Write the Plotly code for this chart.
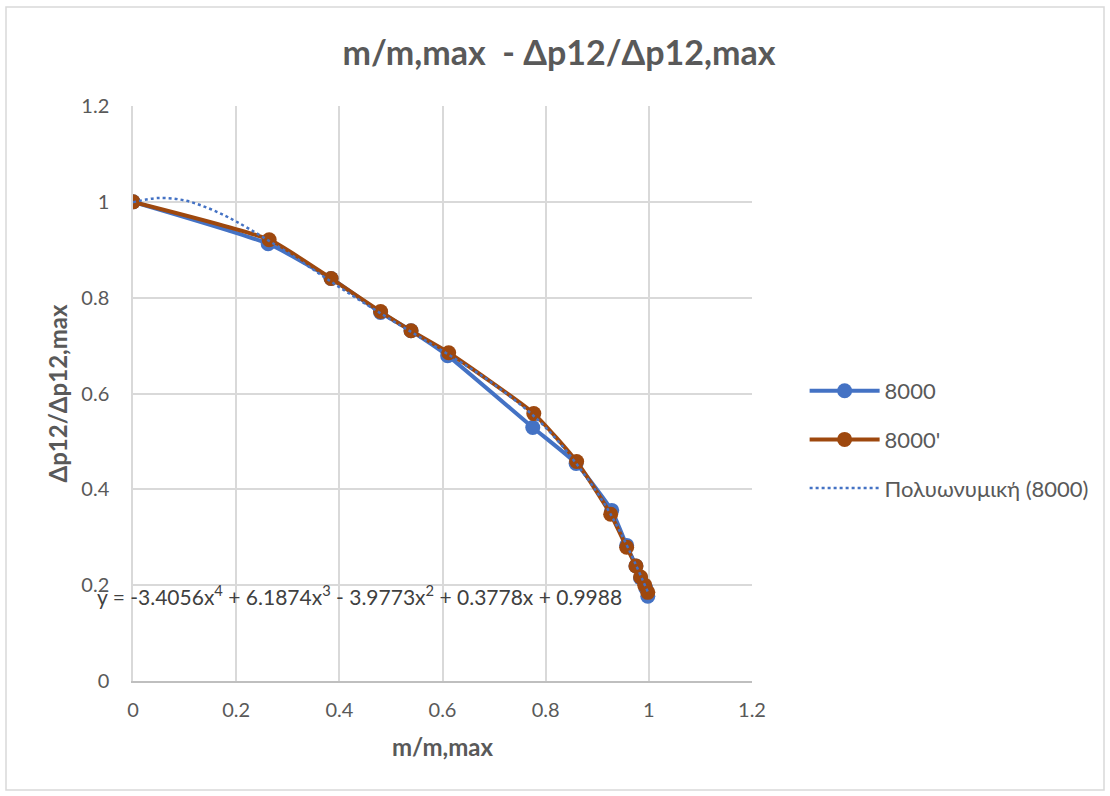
import plotly.graph_objects as go

# --- data ---
x_8000 = [0, 0.262, 0.384, 0.48, 0.539, 0.61, 0.775, 0.859, 0.928, 0.957, 0.975, 0.984, 0.994, 0.998]
y_8000 = [1.0, 0.9125, 0.84, 0.769, 0.731, 0.679, 0.529, 0.454, 0.356, 0.283, 0.24, 0.215, 0.194, 0.177]

x_8000p = [0, 0.264, 0.384, 0.48, 0.539, 0.612, 0.777, 0.86, 0.926, 0.957, 0.975, 0.984, 0.992, 0.998]
y_8000p = [1.0, 0.921, 0.84, 0.771, 0.731, 0.685, 0.558, 0.458, 0.348, 0.279, 0.24, 0.217, 0.2, 0.185]

# dotted polynomial trendline
x_trend = [0, 0.05, 0.1, 0.15, 0.2, 0.3, 0.4, 0.5, 0.6, 0.7, 0.8, 0.9, 0.95, 1.0]
y_trend = [0.999, 1.008, 1.003, 0.985, 0.959, 0.894, 0.822, 0.754, 0.689, 0.619, 0.529, 0.393, 0.299, 0.181]

x_ticks = [0, 0.2, 0.4, 0.6, 0.8, 1, 1.2]
y_ticks = [0, 0.2, 0.4, 0.6, 0.8, 1, 1.2]

blue = "#4472C4"
brown = "#9E480E"
grey_txt = "#595959"
font = "Lato, 'Open Sans', sans-serif"

fig = go.Figure()
fig.add_trace(go.Scatter(
    x=x_8000, y=y_8000, name="8000", mode="lines+markers",
    line=dict(color=blue, width=4, shape="spline", smoothing=0.5),
    marker=dict(color=blue, size=15),
    legendgroup="a",
))
fig.add_trace(go.Scatter(
    x=x_8000p, y=y_8000p, name="8000'", mode="lines+markers",
    line=dict(color=brown, width=4, shape="spline", smoothing=0.5),
    marker=dict(color=brown, size=15),
    legendgroup="b",
))
fig.add_trace(go.Scatter(
    x=x_trend, y=y_trend, name="Πολυωνυμική (8000)", mode="lines",
    line=dict(color=blue, width=2.5, dash="dot", shape="spline"),
    legendgroup="c",
))

fig.add_annotation(
    x=0.44, y=0.18, xref="x", yref="y", showarrow=False,
    text="y = -3.4056x<sup>4</sup> + 6.1874x<sup>3</sup> - 3.9773x<sup>2</sup> + 0.3778x + 0.9988",
    font=dict(family=font, size=21, color="#404040"),
    xanchor="center", yanchor="middle",
)

# chart border
fig.add_shape(
    type="rect", xref="paper", yref="paper",
    x0=-127 / 619, x1=1 + 352 / 619, y0=-109 / 575, y1=1 + 99 / 575,
    line=dict(color="#D9D9D9", width=1.5), fillcolor="rgba(0,0,0,0)",
)

fig.update_layout(
    width=1110, height=796,
    margin=dict(l=133, r=358, t=106, b=115),
    paper_bgcolor="white", plot_bgcolor="white",
    font=dict(family=font, size=20, color=grey_txt),
    title=dict(
        text="<b>m/m,max  - Δp12/Δp12,max</b>",
        x=559 / 1110, xanchor="center",
        y=1 - 53 / 796, yanchor="middle",
        font=dict(family=font, size=34, color=grey_txt),
    ),
    xaxis=dict(
        range=[0, 1.2], tickvals=x_ticks, ticktext=[str(v) for v in x_ticks],
        showgrid=True, gridcolor="#D9D9D9", gridwidth=1.5,
        zeroline=False, showline=True, linecolor="#BFBFBF", linewidth=1.5,
        ticks="", ticklabelstandoff=10,
        title=dict(text="<b>m/m,max</b>", standoff=19,
                   font=dict(family=font, size=24, color=grey_txt)),
    ),
    yaxis=dict(
        range=[0, 1.2], tickvals=y_ticks, ticktext=[str(v) for v in y_ticks],
        showgrid=True, gridcolor="#D9D9D9", gridwidth=1.5,
        zeroline=False, showline=True, linecolor="#D9D9D9", linewidth=1.5,
        ticks="", ticklabelstandoff=18,
        title=dict(text="<b>Δp12/Δp12,max</b>", standoff=7,
                   font=dict(family=font, size=24, color=grey_txt)),
    ),
    legend=dict(
        x=1.085, y=0.42, xanchor="left", yanchor="middle",
        font=dict(family=font, size=22, color=grey_txt),
        tracegroupgap=17, itemwidth=70,
    ),
)

fig.write_html("out.html", config={"displayModeBar": False},
               post_script="document.body.style.margin='0';")
